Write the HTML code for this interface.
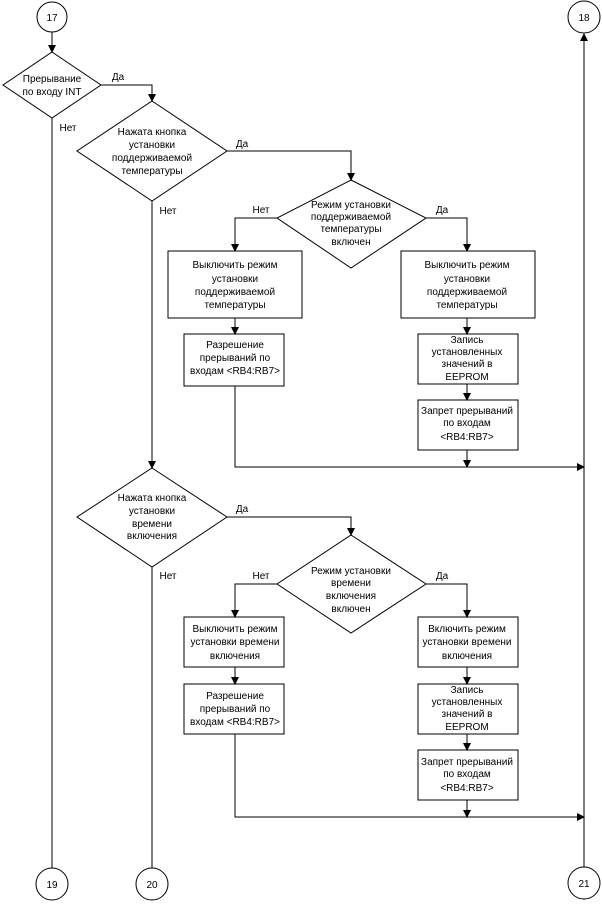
<!DOCTYPE html>
<html><head><meta charset="utf-8"><style>
html,body{margin:0;padding:0;background:#fff}
svg text{font-family:"Liberation Sans",Arial,sans-serif;font-size:10px;fill:#000;text-anchor:middle}
</style></head><body>
<svg width="602" height="902" viewBox="0 0 602 902" xmlns="http://www.w3.org/2000/svg">
<defs><marker id="a" markerWidth="8" markerHeight="10" refX="7" refY="4" orient="auto" markerUnits="userSpaceOnUse"><path d="M0,0 L8,4 L0,8 Z" fill="#000"/></marker></defs>
<g stroke="#000" stroke-width="1" fill="none">
<circle cx="52" cy="17" r="15"/>
<circle cx="584" cy="17" r="16"/>
<circle cx="52" cy="884" r="16"/>
<circle cx="152" cy="884" r="16"/>
<circle cx="584" cy="883" r="16"/>
<!-- diamonds -->
<polygon points="52,52 101,85 52,118 3,85"/>
<polygon points="152,101 227,151 152,201 77,151"/>
<polygon points="351,180 426,218 351,268 277,218"/>
<polygon points="152,468 227,517 152,567 77,517"/>
<polygon points="351,535 426,584 351,633 277,584"/>
<!-- boxes -->
<rect x="168" y="251" width="134" height="67"/>
<rect x="184" y="334" width="100" height="52"/>
<rect x="401" y="251" width="134" height="67"/>
<rect x="418" y="334" width="100" height="50"/>
<rect x="418" y="400" width="100" height="50"/>
<rect x="184" y="617" width="100" height="50"/>
<rect x="184" y="684" width="100" height="50"/>
<rect x="418" y="617" width="100" height="50"/>
<rect x="418" y="684" width="100" height="50"/>
<rect x="418" y="750" width="100" height="50"/>
<!-- connectors -->
<path d="M52,32 V52" marker-end="url(#a)"/>
<path d="M101,85 H152 V101" marker-end="url(#a)"/>
<path d="M52,118 V868"/>
<path d="M227,151 H351 V180" marker-end="url(#a)"/>
<path d="M152,201 V468" marker-end="url(#a)"/>
<path d="M277,218 H235 V251" marker-end="url(#a)"/>
<path d="M426,218 H467 V251" marker-end="url(#a)"/>
<path d="M235,318 V334" marker-end="url(#a)"/>
<path d="M467,318 V334" marker-end="url(#a)"/>
<path d="M467,384 V400" marker-end="url(#a)"/>
<path d="M467,450 V467" marker-end="url(#a)"/>
<path d="M235,386 V467 H584" marker-end="url(#a)"/>
<path d="M584,867 V34" marker-end="url(#a)"/>
<path d="M227,517 H351 V535" marker-end="url(#a)"/>
<path d="M152,567 V868"/>
<path d="M277,584 H235 V617" marker-end="url(#a)"/>
<path d="M426,584 H467 V617" marker-end="url(#a)"/>
<path d="M235,667 V684" marker-end="url(#a)"/>
<path d="M467,667 V684" marker-end="url(#a)"/>
<path d="M467,734 V750" marker-end="url(#a)"/>
<path d="M467,800 V817" marker-end="url(#a)"/>
<path d="M235,734 V817 H584" marker-end="url(#a)"/>
</g>
<text x="52" y="21">17</text>
<text x="584" y="21">18</text>
<text x="52" y="888">19</text>
<text x="152" y="888">20</text>
<text x="584" y="887">21</text>
<text x="52" y="82">Прерывание</text>
<text x="52" y="95">по входу INT</text>
<text x="118" y="80">Да</text>
<text x="68" y="131">Нет</text>
<text x="152" y="135">Нажата кнопка</text>
<text x="152" y="148">установки</text>
<text x="152" y="161">поддерживаемой</text>
<text x="152" y="174">температуры</text>
<text x="242" y="147">Да</text>
<text x="168" y="214">Нет</text>
<text x="351" y="208">Режим установки</text>
<text x="351" y="220">поддерживаемой</text>
<text x="351" y="232">температуры</text>
<text x="351" y="245">включен</text>
<text x="261" y="213">Нет</text>
<text x="442" y="213">Да</text>
<text x="235" y="268">Выключить режим</text>
<text x="235" y="282">установки</text>
<text x="235" y="295">поддерживаемой</text>
<text x="235" y="308">температуры</text>
<text x="467" y="268">Выключить режим</text>
<text x="467" y="282">установки</text>
<text x="467" y="295">поддерживаемой</text>
<text x="467" y="308">температуры</text>
<text x="235" y="348">Разрешение</text>
<text x="235" y="361">прерываний по</text>
<text x="235" y="374">входам &lt;RB4:RB7&gt;</text>
<text x="467" y="343">Запись</text>
<text x="467" y="355">установленных</text>
<text x="467" y="367">значений в</text>
<text x="467" y="380">EEPROM</text>
<text x="467" y="414">Запрет прерываний</text>
<text x="467" y="426">по входам</text>
<text x="467" y="440">&lt;RB4:RB7&gt;</text>
<text x="152" y="501">Нажата кнопка</text>
<text x="152" y="514">установки</text>
<text x="152" y="527">времени</text>
<text x="152" y="539">включения</text>
<text x="242" y="512">Да</text>
<text x="168" y="579">Нет</text>
<text x="351" y="574">Режим установки</text>
<text x="351" y="586">времени</text>
<text x="351" y="599">включения</text>
<text x="351" y="612">включен</text>
<text x="261" y="579">Нет</text>
<text x="442" y="579">Да</text>
<text x="235" y="632">Выключить режим</text>
<text x="235" y="645">установки времени</text>
<text x="235" y="659">включения</text>
<text x="467" y="632">Включить режим</text>
<text x="467" y="645">установки времени</text>
<text x="467" y="659">включения</text>
<text x="235" y="699">Разрешение</text>
<text x="235" y="712">прерываний по</text>
<text x="235" y="725">входам &lt;RB4:RB7&gt;</text>
<text x="467" y="693">Запись</text>
<text x="467" y="705">установленных</text>
<text x="467" y="717">значений в</text>
<text x="467" y="730">EEPROM</text>
<text x="467" y="765">Запрет прерываний</text>
<text x="467" y="777">по входам</text>
<text x="467" y="791">&lt;RB4:RB7&gt;</text>
</svg>
</body></html>
